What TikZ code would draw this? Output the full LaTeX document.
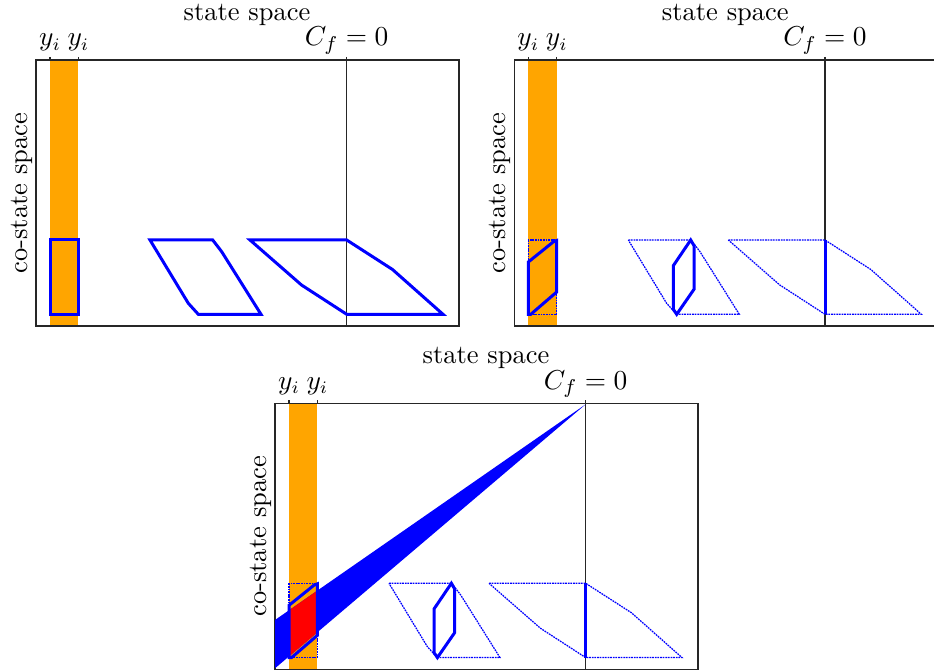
\documentclass[tikz,border=0pt]{standalone}
\usetikzlibrary{positioning}

\definecolor{bandorange}{HTML}{FFA500}
\definecolor{setblue}{HTML}{0000FF}
\definecolor{hitred}{HTML}{FF0000}

\newcommand{\panelframe}[1]{%
  \fill[band] (50,60) rectangle (78.4,326);
  \draw[frame] (36,60) rectangle (459,326);
  \draw[frame] (50,57) -- (50,60) (78.4,57) -- (78.4,60);
  \draw[frame] (346.7,57) -- (346.7,326);
  \node[lab, anchor=base] (#1-title) at (247,20.5) {state space};
  \node[lab, anchor=base, font=\fontsize{11.3}{13}\selectfont] (#1-cf) at (346.7,46) {$C_f = 0$};
  \node[lab, anchor=base] (#1-ya) at (50,46) {$y_i$};
  \node[lab, anchor=base] (#1-yb) at (78.4,46) {$y_i$};
  \node[lab, rotate=90, anchor=base] (#1-costate) at (27,193) {co-state space};
}

\newcommand{\ghostsets}{%
  \draw[ghost] (50,240) rectangle (78.4,314.3);
  \draw[ghost] (150,240) -- (212.7,240) -- (221.7,251.7) -- (261,314.3) -- (198.3,314.3) -- (188.3,303.3) -- cycle;
  \draw[ghost] (250,240) -- (346.7,240) -- (392.5,269.5) -- (443,314.3) -- (346.7,314.3) -- (301.5,285) -- cycle;
  \draw[setline] (346.7,240) -- (346.7,314.3);
  \draw[setline] (195,265.7) -- (212.4,240) -- (215.7,245.7) -- (215.7,289.3) -- (198.4,314.3) -- (195,309.3) -- cycle;
}

\newcommand{\bandset}{(50,314.3) -- (50,262) -- (75.5,241.5) -- (78.4,240.5) -- (78.4,292) -- (52.5,314.3) -- cycle}

\begin{document}
\begin{tikzpicture}[
        x=0.4pt, y=-0.4pt,
        frame/.style={draw=black!85, line width=0.55pt},
        band/.style={fill=bandorange},
        lab/.style={inner sep=0pt, font=\fontsize{10.6}{12}\selectfont},
        setline/.style={draw=setblue, line width=1.2pt},
        ghost/.style={draw=setblue, line width=0.5pt, dash pattern=on 0.7pt off 0.35pt}
    ]
    \useasboundingbox (0,0) rectangle (934,672);

    \begin{scope}
    \panelframe{left}
    \draw[setline] (50,240) rectangle (78.4,314.3);
    \draw[setline] (150,240) -- (212.7,240) -- (221.7,251.7) -- (261,314.3) -- (198.3,314.3) -- (188.3,303.3) -- cycle;
    \draw[setline] (250,240) -- (346.7,240) -- (392.5,269.5) -- (443,314.3) -- (346.7,314.3) -- (301.5,285) -- cycle;
    \end{scope}

    \begin{scope}[shift={(478.3,0)}]
    \clip (-478.3,0) rectangle (455.7,672);
    \panelframe{right}
    \ghostsets
    \draw[setline] \bandset;
    \end{scope}

    \begin{scope}[shift={(239,343.3)}]
    \panelframe{bottom}
    \fill[setblue] (346.7,61) -- (36,276.7) -- (36,325) -- cycle;
    \begin{scope}
    \clip \bandset;
    \fill[hitred] (346.7,61) -- (36,276.7) -- (36,325) -- cycle;
    \end{scope}
    \ghostsets
    \draw[setline] \bandset;
    \end{scope}
\end{tikzpicture}
\end{document}
